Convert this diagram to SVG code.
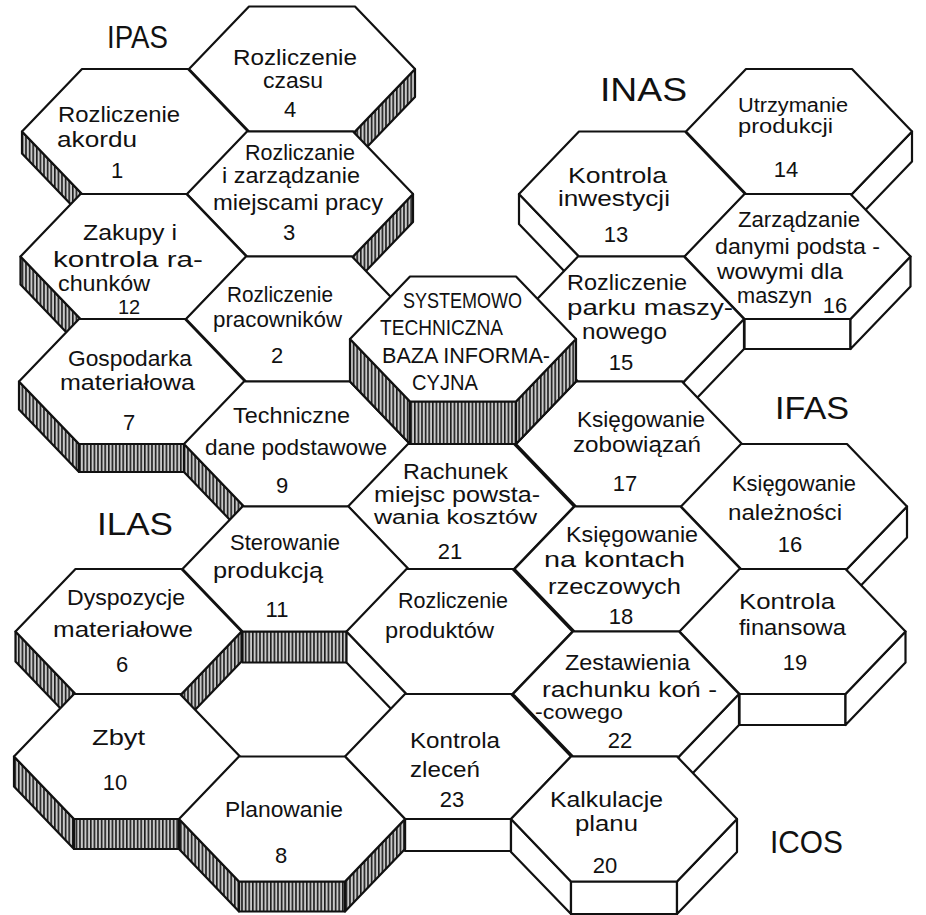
<svg xmlns="http://www.w3.org/2000/svg" width="926" height="915" viewBox="0 0 926 915">
<defs>
<pattern id="hatch" patternUnits="userSpaceOnUse" width="3.6" height="8">
<rect width="3.6" height="8" fill="#c9c9c9"/>
<rect x="0" width="1.6" height="8" fill="#1c1c1c"/>
</pattern>
</defs>
<style>
.top{fill:#fff;stroke:#111;stroke-width:2.2;stroke-linejoin:round}
.sh{fill:url(#hatch);stroke:#111;stroke-width:2.2;stroke-linejoin:round}
.wf{fill:#fff;stroke:#111;stroke-width:2.2;stroke-linejoin:round}
text{font-family:"Liberation Sans",Arial,sans-serif;font-size:22px;fill:#111}
.s{font-size:20px}
.lbl{font-size:32px}
.n{text-anchor:middle}
</style>
<rect width="926" height="915" fill="#fff"/>

<g id="hex-4">
<polygon class="sh" points="355,131.5 415,69 415,97 355,159.5"/>
<polygon class="top" points="189,69 249,6.5 355,6.5 415,69 355,131.5 249,131.5"/>
<text x="233" y="65" textLength="124" lengthAdjust="spacingAndGlyphs">Rozliczenie</text>
<text x="263" y="88" textLength="60" lengthAdjust="spacingAndGlyphs">czasu</text>
<text class="n" x="290" y="117">4</text>
</g>

<g id="hex-1">
<polygon class="sh" points="22,131.5 82,194 82,216 22,153.5"/>
<polygon class="top" points="22,131.5 82,69 188,69 248,131.5 188,194 82,194"/>
<text x="58" y="122" textLength="122" lengthAdjust="spacingAndGlyphs">Rozliczenie</text>
<text x="57" y="147" textLength="80" lengthAdjust="spacingAndGlyphs">akordu</text>
<text class="n" x="117" y="178">1</text>
</g>

<g id="hex-14">
<polygon class="wf" points="852,194 912,131.5 912,161.5 852,224"/>
<polygon class="top" points="686,131.5 746,69 852,69 912,131.5 852,194 746,194"/>
<text class="s" x="738" y="112" textLength="110" lengthAdjust="spacingAndGlyphs">Utrzymanie</text>
<text class="s" x="738" y="133" textLength="95" lengthAdjust="spacingAndGlyphs">produkcji</text>
<text class="n" x="786" y="177">14</text>
</g>

<g id="hex-3">
<polygon class="sh" points="353,256.5 413,194 413,222 353,284.5"/>
<polygon class="top" points="187,194 247,131.5 353,131.5 413,194 353,256.5 247,256.5"/>
<text x="245" y="160" textLength="110" lengthAdjust="spacingAndGlyphs">Rozliczanie</text>
<text x="222" y="183" textLength="138" lengthAdjust="spacingAndGlyphs">i zarządzanie</text>
<text x="213" y="210" textLength="170" lengthAdjust="spacingAndGlyphs">miejscami pracy</text>
<text class="n" x="289" y="240">3</text>
</g>

<g id="hex-13">
<polygon class="wf" points="519,194 579,256.5 579,286.5 519,224"/>
<polygon class="top" points="519,194 579,131.5 685,131.5 745,194 685,256.5 579,256.5"/>
<text x="568" y="183" textLength="99" lengthAdjust="spacingAndGlyphs">Kontrola</text>
<text x="558" y="206" textLength="112" lengthAdjust="spacingAndGlyphs">inwestycji</text>
<text class="n" x="616" y="242">13</text>
</g>

<g id="hex-12">
<polygon class="sh" points="20.5,256.5 80.5,319 80.5,347 20.5,284.5"/>
<polygon class="top" points="20.5,256.5 80.5,194 186.5,194 246.5,256.5 186.5,319 80.5,319"/>
<text x="83" y="240" textLength="94" lengthAdjust="spacingAndGlyphs">Zakupy i</text>
<text x="53" y="267" textLength="150" lengthAdjust="spacingAndGlyphs">kontrola ra-</text>
<text x="58" y="291" textLength="92" lengthAdjust="spacingAndGlyphs">chunków</text>
<text class="n s" x="129" y="314">12</text>
</g>

<g id="hex-16-maszyn">
<polygon class="wf" points="744.5,319 850.5,319 850.5,349 744.5,349"/>
<polygon class="wf" points="850.5,319 910.5,256.5 910.5,286.5 850.5,349"/>
<polygon class="top" points="684.5,256.5 744.5,194 850.5,194 910.5,256.5 850.5,319 744.5,319"/>
<text x="738" y="227" textLength="122" lengthAdjust="spacingAndGlyphs">Zarządzanie</text>
<text x="715" y="254" textLength="165" lengthAdjust="spacingAndGlyphs">danymi podsta -</text>
<text x="717" y="279" textLength="126" lengthAdjust="spacingAndGlyphs">wowymi dla</text>
<text x="737" y="303" textLength="75" lengthAdjust="spacingAndGlyphs">maszyn</text>
<text class="n" x="835" y="313">16</text>
</g>

<g id="hex-2">
<polygon class="top" points="186,319 246,256.5 352,256.5 412,319 352,381.5 246,381.5"/>
<text x="227" y="302" textLength="106" lengthAdjust="spacingAndGlyphs">Rozliczenie</text>
<text x="213" y="327" textLength="129" lengthAdjust="spacingAndGlyphs">pracowników</text>
<text class="n" x="277" y="363">2</text>
</g>

<g id="hex-15">
<polygon class="wf" points="684,381.5 744,319 744,349 684,411.5"/>
<polygon class="top" points="518,319 578,256.5 684,256.5 744,319 684,381.5 578,381.5"/>
<text x="567" y="290" textLength="120" lengthAdjust="spacingAndGlyphs">Rozliczenie</text>
<text x="567" y="315" textLength="166" lengthAdjust="spacingAndGlyphs">parku maszy-</text>
<text x="582" y="339" textLength="85" lengthAdjust="spacingAndGlyphs">nowego</text>
<text class="n" x="621" y="370">15</text>
</g>

<g id="hex-7">
<polygon class="sh" points="19,381.5 79,444 79,472 19,409.5"/>
<polygon class="sh" points="79,444 185,444 185,472 79,472"/>
<polygon class="top" points="19,381.5 79,319 185,319 245,381.5 185,444 79,444"/>
<text x="68" y="366" textLength="124" lengthAdjust="spacingAndGlyphs">Gospodarka</text>
<text x="60" y="390" textLength="135" lengthAdjust="spacingAndGlyphs">materiałowa</text>
<text class="n" x="129" y="430">7</text>
</g>

<g id="hex-9">
<polygon class="sh" points="184,444 244,506.5 244,534.5 184,472"/>
<polygon class="top" points="184,444 244,381.5 350,381.5 410,444 350,506.5 244,506.5"/>
<text x="233" y="423" textLength="117" lengthAdjust="spacingAndGlyphs">Techniczne</text>
<text x="205" y="455" textLength="182" lengthAdjust="spacingAndGlyphs">dane podstawowe</text>
<text class="n" x="282" y="493">9</text>
</g>

<g id="hex-17">
<polygon class="top" points="516,444 576,381.5 682,381.5 742,444 682,506.5 576,506.5"/>
<text x="577" y="427" textLength="128" lengthAdjust="spacingAndGlyphs">Księgowanie</text>
<text x="573" y="452" textLength="128" lengthAdjust="spacingAndGlyphs">zobowiązań</text>
<text class="n" x="625" y="491">17</text>
</g>

<g id="hex-21">
<polygon class="top" points="348,506.5 408,444 514,444 574,506.5 514,569 408,569"/>
<text x="403" y="479" textLength="105" lengthAdjust="spacingAndGlyphs">Rachunek</text>
<text x="374" y="502" textLength="166" lengthAdjust="spacingAndGlyphs">miejsc powsta-</text>
<text class="s" x="374" y="524" textLength="163" lengthAdjust="spacingAndGlyphs">wania kosztów</text>
<text class="n" x="450" y="559">21</text>
</g>

<g id="hex-16">
<polygon class="wf" points="847,569 907,506.5 907,537.5 847,600"/>
<polygon class="top" points="681,506.5 741,444 847,444 907,506.5 847,569 741,569"/>
<text x="732" y="491" textLength="124" lengthAdjust="spacingAndGlyphs">Księgowanie</text>
<text x="728" y="520" textLength="114" lengthAdjust="spacingAndGlyphs">należności</text>
<text class="n" x="790" y="552">16</text>
</g>

<g id="hex-11">
<polygon class="sh" points="242.5,631.5 348.5,631.5 348.5,662.5 242.5,662.5"/>
<polygon class="top" points="182.5,569 242.5,506.5 348.5,506.5 408.5,569 348.5,631.5 242.5,631.5"/>
<text x="230" y="550" textLength="110" lengthAdjust="spacingAndGlyphs">Sterowanie</text>
<text x="213" y="578" textLength="110" lengthAdjust="spacingAndGlyphs">produkcją</text>
<text class="n" x="277" y="617">11</text>
</g>

<g id="hex-18">
<polygon class="top" points="514.5,569 574.5,506.5 680.5,506.5 740.5,569 680.5,631.5 574.5,631.5"/>
<text x="566" y="542" textLength="132" lengthAdjust="spacingAndGlyphs">Księgowanie</text>
<text x="544" y="567" textLength="141" lengthAdjust="spacingAndGlyphs">na kontach</text>
<text x="548" y="594" textLength="133" lengthAdjust="spacingAndGlyphs">rzeczowych</text>
<text class="n" x="621" y="624">18</text>
</g>

<g id="hex-6">
<polygon class="sh" points="15.5,631.5 75.5,694 75.5,724 15.5,661.5"/>
<polygon class="sh" points="181.5,694 241.5,631.5 241.5,661.5 181.5,724"/>
<polygon class="top" points="15.5,631.5 75.5,569 181.5,569 241.5,631.5 181.5,694 75.5,694"/>
<text x="67" y="605" textLength="118" lengthAdjust="spacingAndGlyphs">Dyspozycje</text>
<text x="53" y="637" textLength="140" lengthAdjust="spacingAndGlyphs">materiałowe</text>
<text class="n" x="122" y="672">6</text>
</g>

<g id="hex-rozliczenie-produktow">
<polygon class="wf" points="346.5,631.5 406.5,694 406.5,725 346.5,662.5"/>
<polygon class="top" points="346.5,631.5 406.5,569 512.5,569 572.5,631.5 512.5,694 406.5,694"/>
<text x="398" y="608" textLength="110" lengthAdjust="spacingAndGlyphs">Rozliczenie</text>
<text x="385" y="638" textLength="109" lengthAdjust="spacingAndGlyphs">produktów</text>
</g>

<g id="hex-19">
<polygon class="wf" points="739.5,694 845.5,694 845.5,725 739.5,725"/>
<polygon class="wf" points="845.5,694 905.5,631.5 905.5,662.5 845.5,725"/>
<polygon class="top" points="679.5,631.5 739.5,569 845.5,569 905.5,631.5 845.5,694 739.5,694"/>
<text x="739" y="609" textLength="96" lengthAdjust="spacingAndGlyphs">Kontrola</text>
<text x="739" y="635" textLength="107" lengthAdjust="spacingAndGlyphs">finansowa</text>
<text class="n" x="795" y="670">19</text>
</g>

<g id="hex-22">
<polygon class="wf" points="679,756.5 739,694 739,725 679,787.5"/>
<polygon class="top" points="513,694 573,631.5 679,631.5 739,694 679,756.5 573,756.5"/>
<text x="565" y="670" textLength="125" lengthAdjust="spacingAndGlyphs">Zestawienia</text>
<text x="542" y="697" textLength="175" lengthAdjust="spacingAndGlyphs">rachunku koń -</text>
<text class="s" x="535" y="719" textLength="88" lengthAdjust="spacingAndGlyphs">-cowego</text>
<text class="n" x="620" y="748">22</text>
</g>

<g id="hex-10">
<polygon class="sh" points="14,756.5 74,819 74,849 14,786.5"/>
<polygon class="sh" points="74,819 180,819 180,849 74,849"/>
<polygon class="top" points="14,756.5 74,694 180,694 240,756.5 180,819 74,819"/>
<text x="92" y="745" textLength="53" lengthAdjust="spacingAndGlyphs">Zbyt</text>
<text class="n" x="115" y="790">10</text>
</g>

<g id="hex-23">
<polygon class="wf" points="405,819 511,819 511,851 405,851"/>
<polygon class="top" points="345,756.5 405,694 511,694 571,756.5 511,819 405,819"/>
<text x="410" y="748" textLength="90" lengthAdjust="spacingAndGlyphs">Kontrola</text>
<text x="410" y="777" textLength="70" lengthAdjust="spacingAndGlyphs">zleceń</text>
<text class="n" x="452" y="807">23</text>
</g>

<g id="hex-8">
<polygon class="sh" points="179,819 239,881.5 239,911.5 179,849"/>
<polygon class="sh" points="239,881.5 345,881.5 345,911.5 239,911.5"/>
<polygon class="sh" points="345,881.5 405,819 405,849 345,911.5"/>
<polygon class="top" points="179,819 239,756.5 345,756.5 405,819 345,881.5 239,881.5"/>
<text x="225" y="817" textLength="118" lengthAdjust="spacingAndGlyphs">Planowanie</text>
<text class="n" x="281" y="863">8</text>
</g>

<g id="hex-20">
<polygon class="wf" points="511,819 571,881.5 571,914 511,852"/>
<polygon class="wf" points="571,881.5 677,881.5 677,914 571,914"/>
<polygon class="wf" points="677,881.5 737,819 737,852 677,914"/>
<polygon class="top" points="511,819 571,756.5 677,756.5 737,819 677,881.5 571,881.5"/>
<text x="550" y="807" textLength="113" lengthAdjust="spacingAndGlyphs">Kalkulacje</text>
<text x="575" y="831" textLength="63" lengthAdjust="spacingAndGlyphs">planu</text>
<text class="n" x="605" y="873">20</text>
</g>

<g id="hex-systemowo">
<polygon class="sh" points="350,339 410,401.5 410,444 350,381.5"/>
<polygon class="sh" points="410,401.5 516,401.5 516,444 410,444"/>
<polygon class="sh" points="516,401.5 576,339 576,381.5 516,444"/>
<polygon class="top" points="350,339 410,276.5 516,276.5 576,339 516,401.5 410,401.5"/>
<text x="403" y="308" textLength="119" lengthAdjust="spacingAndGlyphs">SYSTEMOWO</text>
<text x="380" y="335" textLength="123" lengthAdjust="spacingAndGlyphs">TECHNICZNA</text>
<text x="382" y="363" textLength="168" lengthAdjust="spacingAndGlyphs">BAZA INFORMA-</text>
<text x="412" y="390" textLength="66" lengthAdjust="spacingAndGlyphs">CYJNA</text>
</g>

<g id="labels">
<text class="lbl" x="107" y="48" textLength="61" lengthAdjust="spacingAndGlyphs">IPAS</text>
<text class="lbl" x="600" y="101" textLength="87" lengthAdjust="spacingAndGlyphs" style="font-size:34px">INAS</text>
<text class="lbl" x="775" y="419" textLength="74" lengthAdjust="spacingAndGlyphs">IFAS</text>
<text class="lbl" x="97" y="535" textLength="76" lengthAdjust="spacingAndGlyphs">ILAS</text>
<text class="lbl" x="770" y="853" textLength="73" lengthAdjust="spacingAndGlyphs">ICOS</text>
</g>
</svg>
